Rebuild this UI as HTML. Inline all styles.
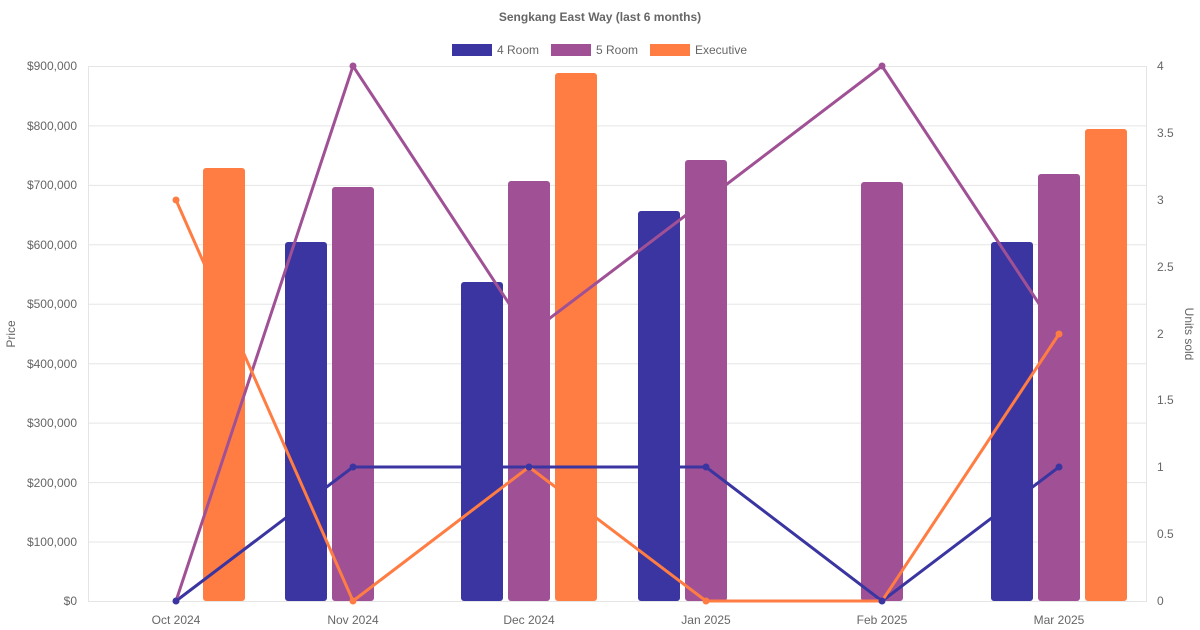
<!DOCTYPE html>
<html><head><meta charset="utf-8"><style>
body{margin:0;background:#fff;}
svg{display:block;font-family:"Liberation Sans",Arial,sans-serif;}
</style></head><body>
<svg width="1200" height="630" viewBox="0 0 1200 630" xmlns="http://www.w3.org/2000/svg">
<rect width="1200" height="630" fill="#fff"/>
<text x="600" y="21" text-anchor="middle" font-size="12" font-weight="bold" fill="#666">Sengkang East Way (last 6 months)</text>
<rect x="452" y="44" width="40" height="12" fill="#3a35a0"/>
<text x="497" y="54" font-size="12" fill="#666">4 Room</text>
<rect x="551" y="44" width="40" height="12" fill="#a05195"/>
<text x="596" y="54" font-size="12" fill="#666">5 Room</text>
<rect x="650" y="44" width="40" height="12" fill="#ff7c43"/>
<text x="695" y="54" font-size="12" fill="#666">Executive</text>
<g stroke="#e5e5e5" stroke-width="1">
<line x1="88" x2="1147" y1="66.5" y2="66.5"/>
<line x1="88" x2="1147" y1="125.9" y2="125.9"/>
<line x1="88" x2="1147" y1="185.4" y2="185.4"/>
<line x1="88" x2="1147" y1="244.8" y2="244.8"/>
<line x1="88" x2="1147" y1="304.2" y2="304.2"/>
<line x1="88" x2="1147" y1="363.7" y2="363.7"/>
<line x1="88" x2="1147" y1="423.1" y2="423.1"/>
<line x1="88" x2="1147" y1="482.6" y2="482.6"/>
<line x1="88" x2="1147" y1="542" y2="542"/>
<line x1="88" x2="1147" y1="601.5" y2="601.5"/>
<line x1="88.5" x2="88.5" y1="66" y2="601"/>
<line x1="1146.5" x2="1146.5" y1="66" y2="601"/>
</g>
<g font-size="12" fill="#666" text-anchor="end">
<text x="77" y="70">$900,000</text>
<text x="77" y="130">$800,000</text>
<text x="77" y="189">$700,000</text>
<text x="77" y="249">$600,000</text>
<text x="77" y="308">$500,000</text>
<text x="77" y="368">$400,000</text>
<text x="77" y="427">$300,000</text>
<text x="77" y="487">$200,000</text>
<text x="77" y="546">$100,000</text>
<text x="77" y="605">$0</text>
</g>
<g font-size="12" fill="#666" text-anchor="start">
<text x="1157" y="70">4</text>
<text x="1157" y="137">3.5</text>
<text x="1157" y="204">3</text>
<text x="1157" y="271">2.5</text>
<text x="1157" y="338">2</text>
<text x="1157" y="404">1.5</text>
<text x="1157" y="471">1</text>
<text x="1157" y="538">0.5</text>
<text x="1157" y="605">0</text>
</g>
<g font-size="12" fill="#666" text-anchor="middle">
<text x="176" y="624">Oct 2024</text>
<text x="353" y="624">Nov 2024</text>
<text x="529" y="624">Dec 2024</text>
<text x="706" y="624">Jan 2025</text>
<text x="882" y="624">Feb 2025</text>
<text x="1059" y="624">Mar 2025</text>
</g>
<text transform="translate(15,334) rotate(-90)" font-size="12" fill="#666" text-anchor="middle">Price</text>
<text transform="translate(1185,334) rotate(90)" font-size="12" fill="#666" text-anchor="middle">Units sold</text>
<g fill="#3a35a0">
<rect x="285" y="242" width="42" height="359" rx="3"/>
<rect x="461" y="282" width="42" height="319" rx="3"/>
<rect x="638" y="211" width="42" height="390" rx="3"/>
<rect x="991" y="242" width="42" height="359" rx="3"/>
</g>
<g fill="#a05195">
<rect x="332" y="187" width="42" height="414" rx="3"/>
<rect x="508" y="181" width="42" height="420" rx="3"/>
<rect x="685" y="160" width="42" height="441" rx="3"/>
<rect x="861" y="182" width="42" height="419" rx="3"/>
<rect x="1038" y="174" width="42" height="427" rx="3"/>
</g>
<g fill="#ff7c43">
<rect x="203" y="168" width="42" height="433" rx="3"/>
<rect x="555" y="73" width="42" height="528" rx="3"/>
<rect x="1085" y="129" width="42" height="472" rx="3"/>
</g>
<g fill="none" stroke-width="3">
<polyline stroke="#3a35a0" points="176,601 353,467 529,467 706,467 882,601 1059,467"/>
<polyline stroke="#a05195" points="176,601 353,66 529,334 706,200 882,66 1059,334"/>
<polyline stroke="#ff7c43" points="176,200 353,601 529,467 706,601 882,601 1059,334"/>
</g>
<g fill="#3a35a0"><circle cx="176" cy="601" r="3.5"/><circle cx="353" cy="467" r="3.5"/><circle cx="529" cy="467" r="3.5"/><circle cx="706" cy="467" r="3.5"/><circle cx="882" cy="601" r="3.5"/><circle cx="1059" cy="467" r="3.5"/></g>
<g fill="#a05195"><circle cx="353" cy="66" r="3.5"/><circle cx="882" cy="66" r="3.5"/></g>
<g fill="#ff7c43"><circle cx="176" cy="200" r="3.5"/><circle cx="353" cy="601" r="3.5"/><circle cx="706" cy="601" r="3.5"/><circle cx="1059" cy="334" r="3.5"/></g>
</svg>
</body></html>
